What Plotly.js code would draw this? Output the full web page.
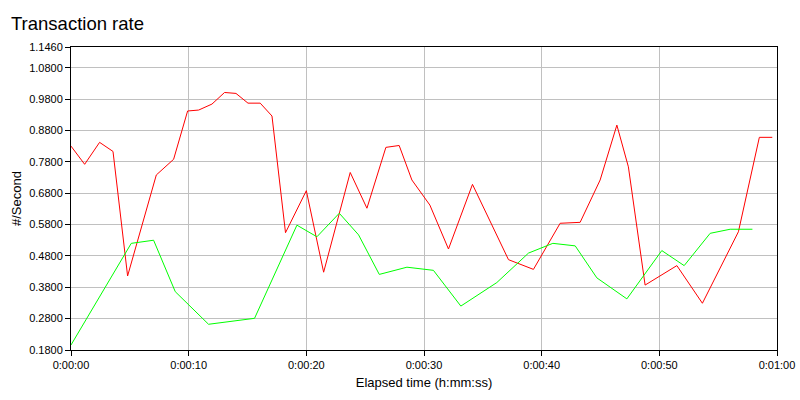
<!DOCTYPE html>
<html>
<head>
<meta charset="utf-8">
<script src="https://cdn.plot.ly/plotly-3.0.1.min.js"></script>
<style>html,body{margin:0;padding:0;background:#fff;}#chart{width:800px;height:400px;}</style>
</head>
<body>
<div id="chart"></div>
<script>
// Elapsed seconds and rates for the red series
var redTime = [0, 1.16, 2.43, 3.57, 4.81, 7.25, 8.72, 9.91, 10.85, 11.98, 13.05, 14.02, 15.04, 16.08, 17.08, 18.23, 20.0, 21.47, 23.73, 25.15, 26.76, 27.89, 28.97, 30.5, 32.08, 34.12, 37.18, 39.3, 41.57, 43.27, 44.97, 46.39, 47.37, 48.79, 51.49, 53.66, 56.72, 58.5, 59.6];
var redRate = [0.830, 0.772, 0.842, 0.813, 0.416, 0.738, 0.788, 0.942, 0.945, 0.964, 1.001, 0.998, 0.967, 0.967, 0.926, 0.554, 0.688, 0.428, 0.746, 0.632, 0.826, 0.832, 0.722, 0.642, 0.502, 0.708, 0.468, 0.437, 0.584, 0.587, 0.722, 0.897, 0.764, 0.387, 0.449, 0.329, 0.557, 0.858, 0.858];
// Elapsed seconds and rates for the green series
var greenTime = [0, 5.12, 7.02, 8.86, 11.69, 15.6, 19.2, 20.9, 22.8, 24.44, 26.2, 28.55, 30.8, 33.13, 36.19, 38.88, 40.95, 42.85, 44.69, 47.24, 50.21, 52.11, 54.32, 56.02, 57.91];
var greenRate = [0.196, 0.520, 0.530, 0.366, 0.262, 0.281, 0.578, 0.541, 0.616, 0.547, 0.421, 0.444, 0.434, 0.320, 0.395, 0.489, 0.520, 0.512, 0.410, 0.343, 0.497, 0.449, 0.552, 0.565, 0.565];
// Axis ticks
var xTickVals = [0, 10, 20, 30, 40, 50, 60];
var xTickText = ["0:00:00", "0:00:10", "0:00:20", "0:00:30", "0:00:40", "0:00:50", "0:01:00"];
var yTickVals = [0.18, 0.28, 0.38, 0.48, 0.58, 0.68, 0.78, 0.88, 0.98, 1.08, 1.146];

var traces = [
  {x: redTime, y: redRate, type: 'scatter', mode: 'lines', line: {color: '#ff0000', width: 1}, hoverinfo: 'none'},
  {x: greenTime, y: greenRate, type: 'scatter', mode: 'lines', line: {color: '#00ff00', width: 1}, hoverinfo: 'none'}
];

var fam = 'Liberation Sans, Arial, sans-serif';
var font = {family: fam, size: 11, color: '#000'};
var titleFont = {family: fam, size: 13, color: '#000'};
var layout = {
  width: 800, height: 400,
  margin: {l: 71, r: 23, t: 47, b: 50},
  paper_bgcolor: '#fff', plot_bgcolor: '#fff',
  showlegend: false,
  font: font,
  title: {text: 'Transaction rate', font: {family: fam, size: 18.5, color: '#000'}, x: 11/800, xref: 'container', xanchor: 'left', y: 1 - 24/400, yanchor: 'middle', yref: 'container'},
  xaxis: {
    range: [0, 60], tickvals: xTickVals, ticktext: xTickText,
    showgrid: true, gridcolor: '#c0c0c0', gridwidth: 1,
    showline: true, linecolor: '#000', linewidth: 1, mirror: true,
    ticks: 'outside', ticklen: 5, tickcolor: '#000', tickwidth: 1,
    zeroline: false, tickfont: font,
    title: {text: 'Elapsed time (h:mm:ss)', font: titleFont, standoff: 7}
  },
  yaxis: {
    range: [0.18, 1.146], tickvals: yTickVals, tickformat: '.4f',
    showgrid: true, gridcolor: '#c0c0c0', gridwidth: 1,
    showline: true, linecolor: '#000', linewidth: 1, mirror: true,
    ticks: 'outside', ticklen: 5, tickcolor: '#000', tickwidth: 1,
    zeroline: false, tickfont: font,
    title: {text: '#/Second', font: titleFont, standoff: 4}
  }
};
Plotly.newPlot('chart', traces, layout, {staticPlot: true, displayModeBar: false});
</script>
</body>
</html>
